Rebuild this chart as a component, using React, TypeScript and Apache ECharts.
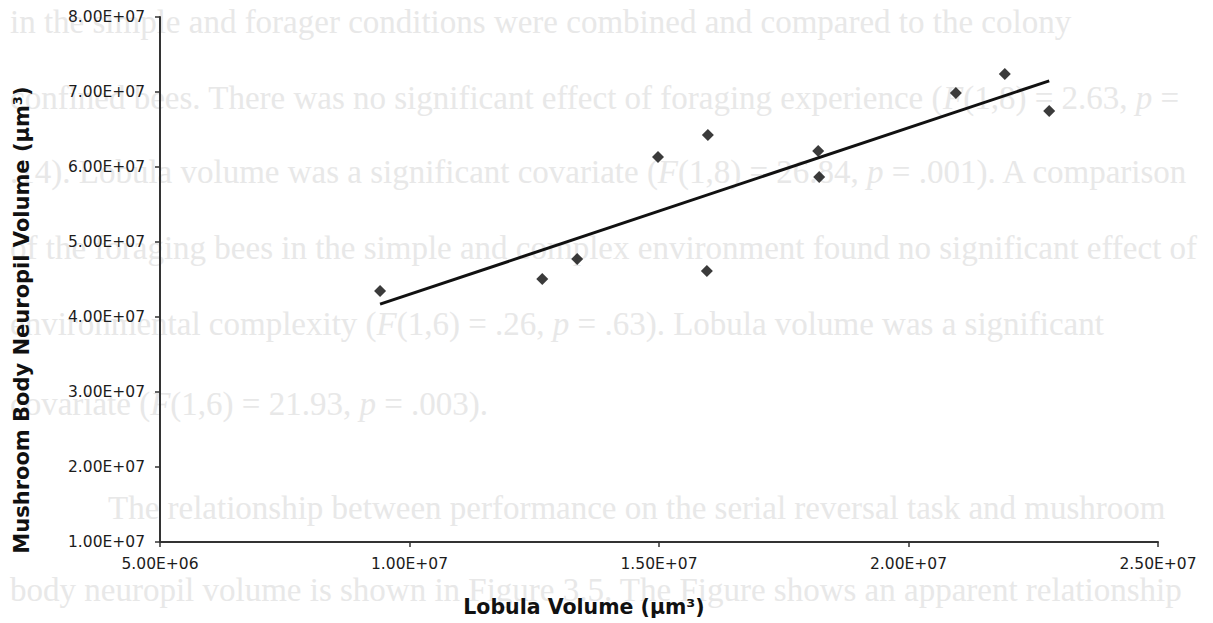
import React, { useEffect, useRef } from "react";
import * as echarts from "echarts";

// Lobula volume (µm³) against mushroom body neuropil volume (µm³), one point per bee
const lobulaVolume = [9.41e6, 1.266e7, 1.336e7, 1.498e7, 1.598e7, 1.596e7, 1.819e7, 1.821e7, 2.095e7, 2.193e7, 2.282e7];
const mushroomBodyVolume = [4.347e7, 4.507e7, 4.773e7, 6.133e7, 6.427e7, 4.613e7, 6.213e7, 5.867e7, 6.987e7, 7.24e7, 6.747e7];

const xTicks = { min: 5e6, max: 2.5e7, step: 5e6 };
const yTicks = { min: 1e7, max: 8e7, step: 1e7 };

// Page text printed behind the figure
const pageLines = [
  "in the simple and forager conditions were combined and compared to the colony",
  "confined bees. There was no significant effect of foraging experience ({i|F}(1,8) = 2.63, {i|p} =",
  ".14). Lobula volume was a significant covariate ({i|F}(1,8) = 26.84, {i|p} = .001). A comparison",
  "of the foraging bees in the simple and complex environment found no significant effect of",
  "environmental complexity ({i|F}(1,6) = .26, {i|p} = .63). Lobula volume was a significant",
  "covariate ({i|F}(1,6) = 21.93, {i|p} = .003).",
  "The relationship between performance on the serial reversal task and mushroom",
  "body neuropil volume is shown in Figure 3.5. The Figure shows an apparent relationship",
];

function sci(v: number): string {
  if (v === 0) return "0.00E+00";
  const e = Math.floor(Math.log10(Math.abs(v)) + 1e-9);
  const m = v / Math.pow(10, e);
  return `${m.toFixed(2)}E+${String(e).padStart(2, "0")}`;
}

// Least-squares fit for the trend line
function linearFit(xs: number[], ys: number[]) {
  const n = xs.length;
  const mx = xs.reduce((a, b) => a + b, 0) / n;
  const my = ys.reduce((a, b) => a + b, 0) / n;
  let sxy = 0;
  let sxx = 0;
  for (let i = 0; i < n; i++) {
    sxy += (xs[i] - mx) * (ys[i] - my);
    sxx += (xs[i] - mx) * (xs[i] - mx);
  }
  const slope = sxy / sxx;
  return { slope, intercept: my - slope * mx };
}

export default function App() {
  const ref = useRef<HTMLDivElement>(null);

  useEffect(() => {
    document.body.style.margin = "0";
    if (!ref.current) return;
    const chart = echarts.init(ref.current, undefined, { renderer: "svg" });

    const fit = linearFit(lobulaVolume, mushroomBodyVolume);
    const xLo = Math.min(...lobulaVolume);
    const xHi = Math.max(...lobulaVolume);
    const trend = [
      [xLo, fit.intercept + fit.slope * xLo],
      [xHi, fit.intercept + fit.slope * xHi],
    ];

    const lineY = [22, 98, 172, 248, 324, 404, 508, 590];
    const pageText = pageLines.map((t, i) => ({
      type: "text",
      z: -10,
      x: i === 6 ? 108 : 10,
      y: lineY[i],
      style: {
        text: t,
        fill: "#e8e8e8",
        font: "33px 'Liberation Serif'",
        verticalAlign: "middle",
        rich: {
          i: { fontStyle: "italic", fontFamily: "Liberation Serif", fontSize: 33, fill: "#e8e8e8" },
        },
      },
    }));

    const axisLabelStyle = {
      color: "#1c1c1c",
      fontFamily: "DejaVu Sans",
      fontSize: 15.5,
      fontWeight: "normal" as const,
      formatter: (v: number) => sci(v),
    };

    chart.setOption({
      animation: false,
      backgroundColor: "#ffffff",
      grid: { left: 160, right: 55, top: 17, bottom: 81 },
      xAxis: {
        type: "value",
        min: xTicks.min,
        max: xTicks.max,
        interval: xTicks.step,
        axisLine: { show: true, lineStyle: { color: "#333", width: 2 } },
        axisTick: { show: true, inside: false, length: 5, lineStyle: { color: "#333", width: 1.5 } },
        splitLine: { show: false },
        axisLabel: { ...axisLabelStyle, margin: 14 },
      },
      yAxis: {
        type: "value",
        min: yTicks.min,
        max: yTicks.max,
        interval: yTicks.step,
        axisLine: { show: true, lineStyle: { color: "#333", width: 2 } },
        axisTick: { show: true, inside: false, length: 5, lineStyle: { color: "#333", width: 1.5 } },
        splitLine: { show: false },
        axisLabel: { ...axisLabelStyle, margin: 15 },
      },
      graphic: [
        ...pageText,
        {
          type: "text",
          x: 584,
          y: 607,
          style: {
            text: "Lobula Volume (µm³)",
            fill: "#111",
            font: "bold 20.5px 'DejaVu Sans'",
            align: "center",
            verticalAlign: "middle",
          },
        },
        {
          type: "text",
          x: 22,
          y: 320,
          rotation: Math.PI / 2,
          style: {
            text: "Mushroom Body Neuropil Volume (µm³)",
            fill: "#111",
            font: "bold 21px 'DejaVu Sans'",
            align: "center",
            verticalAlign: "middle",
          },
        },
      ],
      series: [
        {
          type: "line",
          data: trend,
          showSymbol: false,
          symbol: "none",
          lineStyle: { color: "#111", width: 3 },
          z: 2,
        },
        {
          type: "scatter",
          data: lobulaVolume.map((x, i) => [x, mushroomBodyVolume[i]]),
          symbol: "diamond",
          symbolSize: 12,
          itemStyle: { color: "#0a0a0a" },
          z: 3,
        },
      ],
    });

    return () => chart.dispose();
  }, []);

  return <div ref={ref} style={{ width: 1213, height: 623 }} />;
}
